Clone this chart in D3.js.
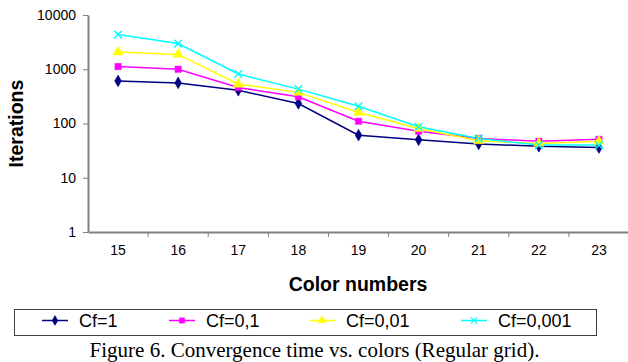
<!DOCTYPE html>
<html>
<head>
<meta charset="utf-8">
<script src="https://cdn.jsdelivr.net/npm/d3@7"></script>
<style>
  body { margin: 0; background: #fff; }
  svg { display: block; }
  .axis path, .axis line { stroke: #808080; }
  .axis text { font-family: "Liberation Sans", Arial, sans-serif; font-size: 14px; fill: #000; }
</style>
</head>
<body>
<div id="chart"></div>
<script>
const categories = [15, 16, 17, 18, 19, 20, 21, 22, 23];
const seriesNames = ["Cf=1", "Cf=0,1", "Cf=0,01", "Cf=0,001"];
const cf1 = [610, 560, 410, 234, 61, 50, 42, 38, 36];
const cf01 = [1120, 1000, 460, 310, 110, 72, 53, 47, 51];
const cf001 = [2080, 1880, 530, 375, 160, 81, 48, 43, 47];
const cf0001 = [4350, 2980, 820, 430, 208, 87, 53, 40, 40];
const yTicks = [1, 10, 100, 1000, 10000];

const seriesValues = [cf1, cf01, cf001, cf0001];
const colors = ["#000080", "#ff00ff", "#ffff00", "#00ffff"];
const symbols = [d3.symbolDiamond, d3.symbolSquare, d3.symbolTriangle, d3.symbolX];
const symSizes = [40, 40, 45, 40];

const W = 628, H = 362;
const margin = {left: 88, top: 15, right: -1, bottom: 130};
const width = W - margin.left - margin.right;
const height = H - margin.top - margin.bottom;

const svg = d3.select("#chart").append("svg")
  .attr("width", W).attr("height", H);

const x = d3.scaleBand().domain(categories).range([0, width]);
const y = d3.scaleLog().domain([1, 10000]).range([height, 0]);

const g = svg.append("g").attr("transform", `translate(${margin.left},${margin.top})`);

// y axis
g.append("g").attr("class", "axis")
  .call(d3.axisLeft(y).tickValues(yTicks).tickFormat(d3.format("d")).tickSize(5).tickSizeOuter(0).tickPadding(7))
  .call(a => a.select(".domain").attr("stroke-width", 2));

// x axis, ticks sit on the band edges
const xAxis = g.append("g").attr("class", "axis")
  .attr("transform", `translate(0,${height})`)
  .call(d3.axisBottom(x).tickSize(0).tickSizeOuter(0).tickPadding(13))
  .call(a => a.select(".domain").attr("stroke-width", 2));
xAxis.selectAll(".edge")
  .data(categories)
  .enter().append("line")
  .attr("x1", d => x(d) + x.bandwidth())
  .attr("x2", d => x(d) + x.bandwidth())
  .attr("y1", 0).attr("y2", 5)
  .attr("stroke", "#808080");

const line = d3.line()
  .x((d, i) => x(categories[i]) + x.bandwidth() / 2)
  .y(d => y(d));

seriesValues.forEach((vals, s) => {
  g.append("path")
    .datum(vals)
    .attr("fill", "none")
    .attr("stroke", colors[s])
    .attr("stroke-width", 1.5)
    .attr("d", line);
});
seriesValues.forEach((vals, s) => {
  g.selectAll(".m" + s)
    .data(vals)
    .enter().append("path")
    .attr("transform", (d, i) => `translate(${x(categories[i]) + x.bandwidth() / 2},${y(d)})`)
    .attr("d", d3.symbol().type(symbols[s]).size(symSizes[s]))
    .attr("fill", s === 3 ? "none" : colors[s])
    .attr("stroke", colors[s])
    .attr("stroke-width", s === 3 ? 1.5 : 0.5);
});

// axis titles
svg.append("text")
  .attr("transform", "translate(23,123.5) rotate(-90)")
  .attr("text-anchor", "middle")
  .style("font-family", "Liberation Sans, Arial, sans-serif")
  .style("font-size", "19.5px").style("font-weight", "bold")
  .text("Iterations");

svg.append("text")
  .attr("x", 358).attr("y", 291)
  .attr("text-anchor", "middle")
  .style("font-family", "Liberation Sans, Arial, sans-serif")
  .style("font-size", "19.5px").style("font-weight", "bold")
  .text("Color numbers");

// legend
const legend = svg.append("g");
legend.append("rect")
  .attr("x", 14.5).attr("y", 309.5).attr("width", 582).attr("height", 26)
  .attr("fill", "none").attr("stroke", "#404040").attr("stroke-width", 1);
const legTextX = [79, 206, 346, 498];
seriesNames.forEach((name, s) => {
  const tx = legTextX[s];
  legend.append("line").attr("x1", tx - 37).attr("x2", tx - 11).attr("y1", 320.5).attr("y2", 320.5)
    .attr("stroke", colors[s]).attr("stroke-width", 1.5);
  legend.append("path").attr("transform", `translate(${tx - 24},320.5)`)
    .attr("d", d3.symbol().type(symbols[s]).size(28))
    .attr("fill", s === 3 ? "none" : colors[s])
    .attr("stroke", colors[s]).attr("stroke-width", s === 3 ? 1.2 : 0.5);
  legend.append("text").attr("x", tx).attr("y", 327)
    .style("font-family", "Liberation Sans, Arial, sans-serif")
    .style("font-size", "18px")
    .text(name);
});

// caption
svg.append("text")
  .attr("x", 314.5).attr("y", 357)
  .attr("text-anchor", "middle")
  .style("font-family", "Liberation Serif, Times New Roman, serif")
  .style("font-size", "21px")
  .text("Figure 6. Convergence time vs. colors (Regular grid).");
</script>
</body>
</html>
